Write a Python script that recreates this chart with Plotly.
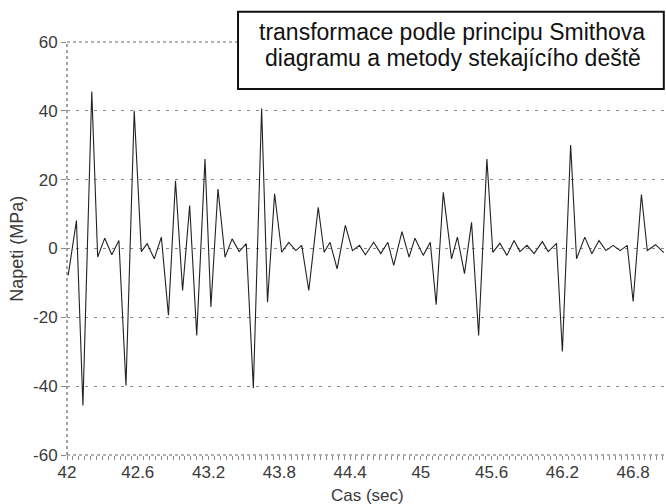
import plotly.graph_objects as go

# Time (s) of each turning point and stress (MPa)
cas = [42.01, 42.08, 42.135, 42.21, 42.26, 42.32, 42.38, 42.44, 42.50, 42.57,
       42.63, 42.68, 42.74, 42.80, 42.86, 42.92, 42.98, 43.04, 43.10, 43.17,
       43.22, 43.28, 43.34, 43.40, 43.46, 43.52, 43.58, 43.65, 43.70, 43.76,
       43.82, 43.88, 43.94, 43.99, 44.05, 44.13, 44.18, 44.23, 44.29, 44.36,
       44.42, 44.48, 44.53, 44.60, 44.66, 44.72, 44.77, 44.84, 44.90, 44.95,
       45.02, 45.08, 45.13, 45.19, 45.26, 45.31, 45.37, 45.43, 45.49, 45.56,
       45.61, 45.67, 45.73, 45.79, 45.84, 45.90, 45.96, 46.03, 46.08, 46.15,
       46.20, 46.27, 46.32, 46.39, 46.45, 46.51, 46.57, 46.63, 46.69, 46.75,
       46.80, 46.87, 46.92, 46.99, 47.06]
napeti = [-7.8, 8.1, -45.6, 45.6, -2.5, 3.0, -1.8, 2.3, -39.8, 40.0,
          -0.9, 1.4, -3.0, 3.3, -19.4, 19.7, -12.2, 12.5, -25.3, 26.0,
          -17.0, 17.3, -2.5, 2.8, -0.9, 1.4, -40.5, 40.7, -15.6, 15.9,
          -1.1, 1.8, -0.6, 0.9, -12.2, 12.0, -1.1, 1.8, -5.9, 6.7,
          -0.6, 0.9, -1.8, 1.8, -1.5, 1.8, -4.9, 4.9, -2.5, 3.0,
          -2.0, 1.8, -16.3, 16.3, -3.0, 3.3, -7.3, 7.6, -25.3, 26.0,
          -1.1, 1.5, -2.0, 2.3, -0.9, 0.9, -1.5, 2.0, -0.9, 1.5,
          -29.9, 30.1, -3.0, 3.3, -1.5, 2.3, -0.6, 0.9, -0.6, 0.9,
          -15.4, 15.7, -0.6, 1.1, -1.2]

x_ticks = [42, 42.6, 43.2, 43.8, 44.4, 45, 45.6, 46.2, 46.8]
x_tick_labels = ["42", "42.6", "43.2", "43.8", "44.4", "45", "45.6", "46.2", "46.8"]
y_ticks = [-60, -40, -20, 0, 20, 40, 60]
y_tick_labels = ["-60", "-40", "-20", "0", "20", "40", "60"]

title_line1 = "transformace podle principu Smithova"
title_line2 = "diagramu a metody stekajícího deště"
x_title = "Cas (sec)"
y_title = "Napeti (MPa)"

FONT = "Liberation Sans, Arial, sans-serif"
TXT = "#3a3a3a"
GRID = "#8a8a8a"

fig = go.Figure()
fig.add_trace(go.Scatter(x=cas, y=napeti, mode="lines",
                         line=dict(color="#222", width=1.1), showlegend=False,
                         hoverinfo="skip"))

fig.update_layout(
    width=666, height=504,
    margin=dict(l=67, r=1, t=42, b=49, autoexpand=False),
    paper_bgcolor="white", plot_bgcolor="white",
    font=dict(family=FONT, color=TXT, size=17),
    xaxis=dict(range=[42, 47.07], tickvals=x_ticks, ticktext=x_tick_labels,
               showgrid=False, zeroline=False, showline=False, automargin=False,
               ticks="outside", ticklen=4, tickcolor=GRID, ticklabelstandoff=-2,
               minor=dict(dtick=0.05, tick0=42, ticks="outside", ticklen=4,
                          tickcolor=GRID, showgrid=False),
               tickfont=dict(size=17, color=TXT)),
    yaxis=dict(range=[-60, 60], tickvals=y_ticks, ticktext=y_tick_labels,
               showgrid=True, gridcolor=GRID, gridwidth=1, griddash="3px,6px",
               zeroline=False, showline=False, automargin=False,
               ticks="outside", ticklen=5, tickcolor=GRID,
               tickfont=dict(size=17, color=TXT)),
    shapes=[
        dict(type="line", xref="paper", yref="paper", x0=0, x1=1, y0=1, y1=1,
             line=dict(color="#666", width=1, dash="dot")),
        dict(type="line", xref="paper", yref="paper", x0=0, x1=0, y0=0, y1=1,
             line=dict(color="#666", width=1.2, dash="dot")),
        dict(type="line", xref="paper", yref="paper", x0=0, x1=1, y0=0, y1=0,
             line=dict(color="#666", width=1.2, dash="dot")),
        dict(type="rect", xref="paper", yref="paper", x0=0.286, x1=0.998,
             y0=0.886, y1=1.073, fillcolor="white",
             line=dict(color="#111", width=2)),
    ],
    annotations=[
        dict(text=title_line1, xref="paper", yref="paper", x=0.6446, y=1.0232,
             xanchor="center", yanchor="middle", showarrow=False,
             font=dict(size=23, color="#111", family=FONT)),
        dict(text=title_line2, xref="paper", yref="paper", x=0.6455, y=0.9603,
             xanchor="center", yanchor="middle", showarrow=False,
             font=dict(size=23, color="#111", family=FONT)),
        dict(text=x_title, xref="paper", yref="paper", x=0.503, y=-0.097,
             xanchor="center", yanchor="middle", showarrow=False,
             font=dict(size=17, color=TXT)),
        dict(text=y_title, xref="paper", yref="paper", x=-0.085, y=0.5,
             xanchor="center", yanchor="middle", showarrow=False, textangle=-90,
             font=dict(size=18, color=TXT)),
    ],
)

fig.write_html("out.html", config={"displayModeBar": False},
               post_script="document.body.style.margin='0';document.body.style.overflow='hidden';")
